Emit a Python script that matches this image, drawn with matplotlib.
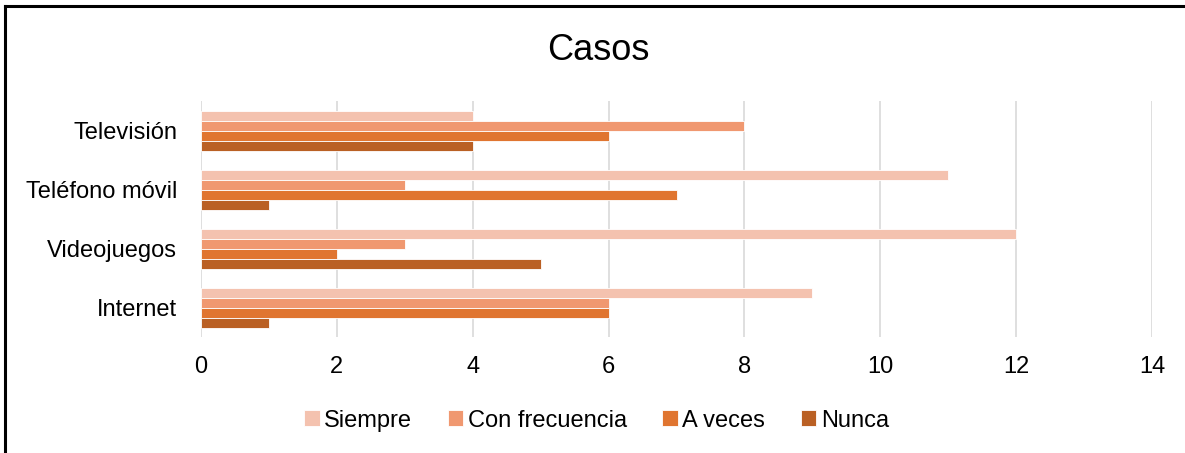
import matplotlib.pyplot as plt
import numpy as np
from matplotlib.lines import Line2D

plt.rcParams['font.family'] = ['Liberation Sans', 'DejaVu Sans']

# Data
categories = ['Televisión', 'Teléfono móvil', 'Videojuegos', 'Internet']
series_names = ['Siempre', 'Con frecuencia', 'A veces', 'Nunca']
siempre = [4, 11, 12, 9]
con_frecuencia = [8, 3, 3, 6]
a_veces = [6, 7, 2, 6]
nunca = [4, 1, 5, 1]
x_ticks = [0, 2, 4, 6, 8, 10, 12, 14]

series = [siempre, con_frecuencia, a_veces, nunca]
colors = ['#F4C2AF', '#F09870', '#E07530', '#BA6024']

fig = plt.figure(figsize=(11.85, 4.53), dpi=100)
ax = fig.add_axes([0.1696, 0.256, 0.8026, 0.52])

y = np.arange(len(categories))
bar_h = 0.17
offsets = [-1.5 * bar_h, -0.5 * bar_h, 0.5 * bar_h, 1.5 * bar_h]

for vals, off, col, name in zip(series, offsets, colors, series_names):
    ax.barh(y + off, vals, height=bar_h, color=col, label=name,
            edgecolor='white', linewidth=0.6, zorder=3)

ax.set_xlim(0, 14)
ax.set_ylim(len(categories) - 0.5, -0.5)
ax.set_xticks(x_ticks)
ax.set_yticks(y)
ax.set_yticklabels(categories)
ax.tick_params(axis='both', length=0, labelsize=17)
ax.tick_params(axis='x', pad=14)
ax.tick_params(axis='y', pad=17)
ax.grid(axis='x', color='#D9D9D9', linewidth=1.2, zorder=0)
for s in ax.spines.values():
    s.set_visible(False)

fig.text(0.505, 1 - 51 / 453, 'Casos', fontsize=26, ha='center', va='center')

ax.legend(loc='center', bbox_to_anchor=(0.416, -0.355), ncol=4, frameon=False,
          fontsize=17, handlelength=0.65, handleheight=0.65, handletextpad=0.2,
          columnspacing=1.5)

# chart border (top and left visible)
fig.add_artist(Line2D([5 / 1185, 5 / 1185], [0, 1 - 6 / 453], color='black', linewidth=2.2))
fig.add_artist(Line2D([5 / 1185, 1], [1 - 6 / 453, 1 - 6 / 453], color='black', linewidth=2.2))

fig.savefig('out.png', dpi=100)
